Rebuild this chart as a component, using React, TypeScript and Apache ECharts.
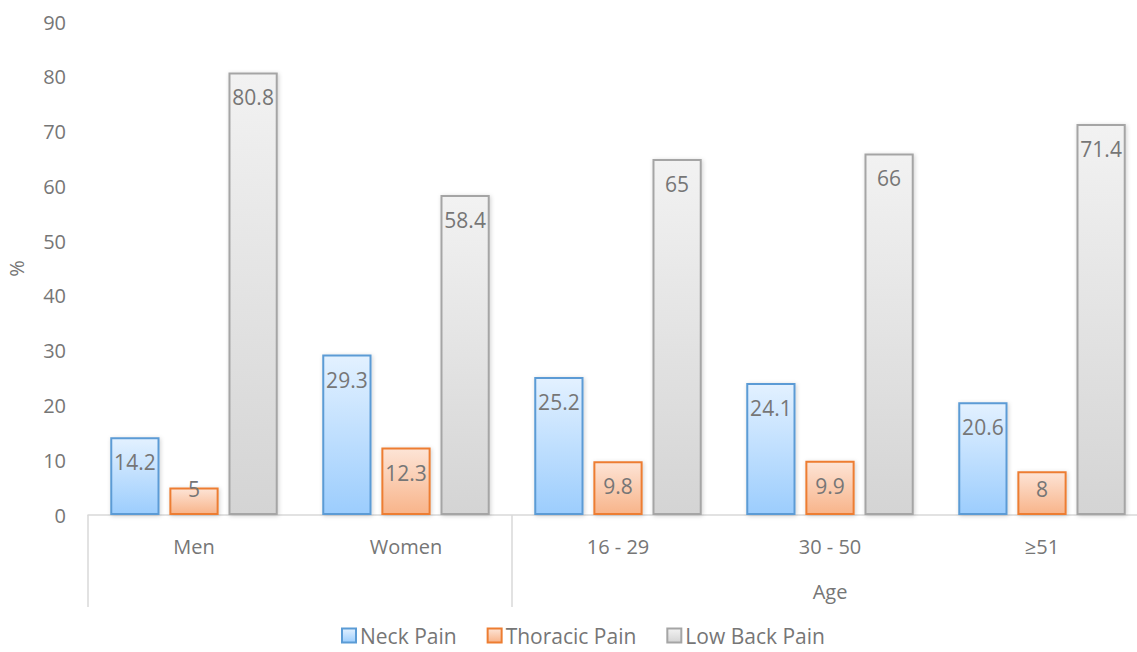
import React, { useEffect, useRef } from "react";
import * as echarts from "echarts";

const categories = ["Men", "Women", "16 - 29", "30 - 50", "≥51"];
const groupLabels = ["", "", "", "Age", ""];
const neckPain = [14.2, 29.3, 25.2, 24.1, 20.6];
const thoracicPain = [5, 12.3, 9.8, 9.9, 8];
const lowBackPain = [80.8, 58.4, 65, 66, 71.4];

const FONT = "'Open Sans', 'Noto Sans', sans-serif";
const TXT = "#767676";

function grad(top: string, bottom: string) {
  return new echarts.graphic.LinearGradient(0, 0, 0, 1, [
    { offset: 0, color: top },
    { offset: 1, color: bottom },
  ]);
}

export default function App() {
  const ref = useRef<HTMLDivElement>(null);
  useEffect(() => {
    if (!ref.current) return;
    const chart = echarts.init(ref.current, undefined, { renderer: "svg" });
    const mk = (name: string, data: number[], top: string, bottom: string, border: string) => ({
      name,
      type: "bar",
      data,
      barGap: "20%",
      barCategoryGap: "21%",
      itemStyle: {
        color: grad(top, bottom),
        borderColor: border,
        borderWidth: 2,
        shadowColor: "rgba(0,0,0,0.18)",
        shadowBlur: 4,
        shadowOffsetX: 1,
        shadowOffsetY: 1,
      },
      label: {
        show: true,
        position: "insideTop",
        distance: 14,
        color: TXT,
        fontFamily: FONT,
        fontSize: 21,
      },
      labelLayout: (p: any) => {
        const r = p.rect;
        const y = Math.min(r.y + 25, r.y + r.height - 26);
        return { x: r.x + r.width / 2, y, align: "center", verticalAlign: "middle" };
      },
    });
    chart.setOption({
      animation: false,
      textStyle: { fontFamily: FONT },
      grid: { left: 88, top: 22, width: 1060, bottom: 137, outerBoundsMode: "none", containLabel: false },
      legend: {
        bottom: 1,
        left: 336,
        itemWidth: 14,
        itemHeight: 14,
        itemGap: 30,
        icon: "rect",
        textStyle: { color: TXT, fontSize: 21, fontFamily: FONT, padding: [0, 0, 0, -1] },
        data: ["Neck Pain", "Thoracic Pain", "Low Back Pain"],
      },
      xAxis: [
        {
          type: "category",
          data: categories,
          axisLine: { lineStyle: { color: "#d9d9d9", width: 1.5 } },
          axisTick: {
            show: true,
            alignWithLabel: false,
            length: 92,
            interval: (i: number) => i === 0 || i === 2,
            lineStyle: { color: "#d9d9d9", width: 1.5 },
          },
          axisLabel: { color: TXT, fontSize: 20, fontFamily: FONT, margin: 21, interval: 0 },
        },
        {
          type: "category",
          data: groupLabels,
          position: "bottom",
          offset: 46,
          axisLine: { show: false },
          axisTick: { show: false },
          axisLabel: { color: TXT, fontSize: 20, fontFamily: FONT, margin: 20, interval: 0 },
        },
      ],
      yAxis: {
        type: "value",
        min: 0,
        max: 90,
        interval: 10,
        name: "%",
        nameLocation: "middle",
        nameGap: 62,
        nameRotate: 90,
        nameTextStyle: { color: TXT, fontSize: 20, fontFamily: FONT },
        axisLine: { show: false },
        axisTick: { show: false },
        splitLine: { show: false },
        axisLabel: { color: TXT, fontSize: 20, fontFamily: FONT, margin: 22 },
      },
      series: [
        mk("Neck Pain", neckPain, "#e3f1ff", "#9ccdfd", "#5b9bd5"),
        mk("Thoracic Pain", thoracicPain, "#fde4d6", "#f8b48a", "#ed7d31"),
        mk("Low Back Pain", lowBackPain, "#f2f2f2", "#d4d4d4", "#a5a5a5"),
      ],
    });
    return () => chart.dispose();
  }, []);
  return (
    <div
      ref={ref}
      style={{ position: "fixed", left: 0, top: 0, width: 1137, height: 652, background: "#fff" }}
    />
  );
}
